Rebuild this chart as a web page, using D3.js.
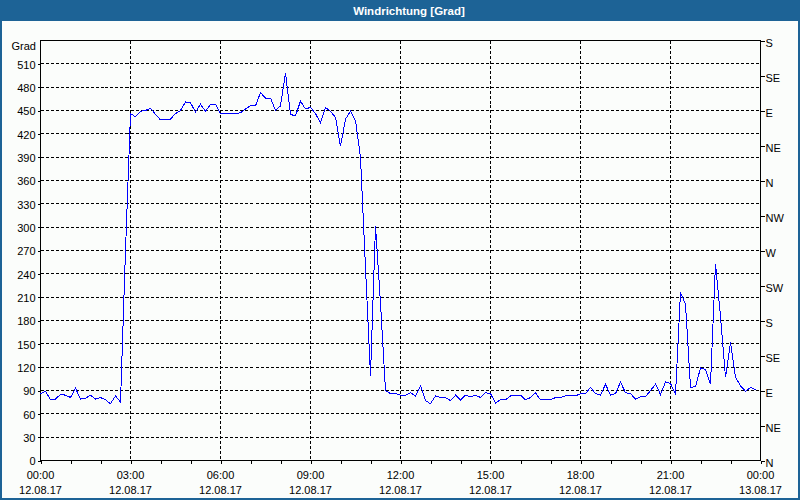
<!DOCTYPE html>
<html><head><meta charset="utf-8">
<script src="https://cdn.jsdelivr.net/npm/d3@7"></script>
<style>
html,body{margin:0;padding:0;background:#fbfdfb;}
svg{display:block;font-family:"Liberation Sans",Arial,sans-serif;}
</style></head><body>
<svg id="c" width="800" height="500"></svg>
<script>
const title = "Windrichtung [Grad]";
const yUnit = "Grad";
// wind direction in degrees, one reading every 10 minutes (00:00 .. 23:50)
const direction = [
 86, 89, 78, 79, 85, 84, 81, 93, 79, 80, 84, 79, 81, 78, 73, 83, 75, 270,
 446,442,449,450,453,445,438,438,439,446,450,461,460,448,458,449,458,458,
 446,446,446,446,447,452,456,456,473,466,466,450,456,498,445,443,462,452,
 454,446,434,454,449,441,404,439,449,437,390,248,109,302,202, 90, 86, 86,
 84, 84, 87, 83, 96, 77, 73, 83, 81, 81, 77, 84, 78, 84, 82, 84, 81, 87,
 86, 74, 78, 78, 83, 83, 84, 78, 81, 87, 78, 78, 78, 81, 81, 83, 83, 83,
 86, 86, 94, 86, 84, 98, 84, 86,101, 87, 86, 79, 82, 82, 90, 98, 85,101,
 99, 85,216,201, 94, 95,119,117, 98,253,185,107,152,107, 96, 89, 94, 91
];
const hours = direction.map((d, i) => i / 6);
const yTicks = [0,30,60,90,120,150,180,210,240,270,300,330,360,390,420,450,480,510];
const compassTicks = [0,45,90,135,180,225,270,315,360,405,450,495,540];
const compassLabels = ["N","NE","E","SE","S","SW","W","NW","N","NE","E","SE","S"];
const xTicks = [0,3,6,9,12,15,18,21,24];
const xMinorTicks = d3.range(0, 25, 1);
const timeLabels = ["00:00","03:00","06:00","09:00","12:00","15:00","18:00","21:00","00:00"];
const dateLabels = ["12.08.17","12.08.17","12.08.17","12.08.17","12.08.17","12.08.17","12.08.17","12.08.17","13.08.17"];

(function () {
const W = 800, H = 500;
const svg = d3.select("#c");
const pL = 40.5, pR = 760.5, pT = 40.5, pB = 460.5;
const x = d3.scaleLinear().domain([0, 24]).range([pL, pR]);
const y = d3.scaleLinear().domain([0, 540]).range([pB, pT]);

svg.append("rect").attr("width", W).attr("height", H).attr("fill", "#fbfdfb");
svg.append("rect").attr("x", 0).attr("y", 0).attr("width", W).attr("height", 21).attr("fill", "#1d6396");
svg.append("text").attr("x", 409).attr("y", 14.5).attr("text-anchor", "middle")
  .attr("fill", "#fff").attr("font-weight", "bold").attr("font-size", "11.5px").text(title);
svg.append("rect").attr("x", 1).attr("y", 1).attr("width", W - 2).attr("height", H - 2)
  .attr("fill", "none").attr("stroke", "#1d6396").attr("stroke-width", 2);

const g = svg.append("g").attr("shape-rendering", "crispEdges");
g.selectAll("line.hg").data(yTicks.filter(v => v > 0)).join("line")
  .attr("x1", pL).attr("x2", pR).attr("y1", d => y(d)).attr("y2", d => y(d))
  .attr("stroke", "#000").attr("stroke-dasharray", "3,2");
g.selectAll("line.vg").data(xTicks.filter(v => v > 0 && v < 24)).join("line")
  .attr("y1", pT).attr("y2", pB).attr("x1", d => x(d)).attr("x2", d => x(d))
  .attr("stroke", "#000").attr("stroke-dasharray", "3,2");

const la = svg.append("g").attr("transform", `translate(${pL},0)`)
  .call(d3.axisLeft(y).tickValues(yTicks).tickSize(3).tickPadding(2).tickFormat(d3.format("d")));
la.select(".domain").remove();
la.selectAll("line").attr("stroke", "#000").attr("shape-rendering", "crispEdges");
la.selectAll("text").attr("font-size", "11px").attr("font-family", "Liberation Sans, Arial, sans-serif")
  .attr("fill", "#000").attr("dy", "0.4em");

svg.append("text").attr("x", 36).attr("y", 50).attr("text-anchor", "end")
  .attr("font-size", "11px").attr("fill", "#000").text(yUnit);

const ra = svg.append("g").attr("transform", `translate(${pR},0)`)
  .call(d3.axisRight(y).tickValues(compassTicks).tickSize(4).tickPadding(1)
    .tickFormat((d, i) => compassLabels[i]));
ra.select(".domain").remove();
ra.selectAll("line").attr("stroke", "#000").attr("shape-rendering", "crispEdges");
ra.selectAll("text").attr("font-size", "11px").attr("font-family", "Liberation Sans, Arial, sans-serif")
  .attr("fill", "#000").attr("dy", "0.55em");

const ba = svg.append("g").attr("transform", `translate(0,${pB})`)
  .call(d3.axisBottom(x).tickValues(xMinorTicks).tickSize(3).tickFormat(""));
ba.select(".domain").remove();
ba.selectAll("line").attr("stroke", "#000").attr("shape-rendering", "crispEdges");

const xl = svg.append("g").attr("font-size", "11px").attr("fill", "#000").attr("text-anchor", "middle");
xl.selectAll("text.t").data(xTicks).join("text").attr("class", "t")
  .attr("x", d => x(d)).attr("y", 479).text((d, i) => timeLabels[i]);
xl.selectAll("text.d").data(xTicks).join("text").attr("class", "d")
  .attr("x", d => x(d)).attr("y", 493.5).text((d, i) => dateLabels[i]);

svg.append("rect").attr("x", pL).attr("y", pT).attr("width", pR - pL).attr("height", pB - pT)
  .attr("fill", "none").attr("stroke", "#000").attr("shape-rendering", "crispEdges");

const line = d3.line().x((d, i) => x(hours[i])).y(d => y(d));
svg.append("path").datum(direction).attr("d", line)
  .attr("fill", "none").attr("stroke", "#0000ff").attr("stroke-width", 1)
  .attr("shape-rendering", "crispEdges");
})();
</script>
</body></html>
